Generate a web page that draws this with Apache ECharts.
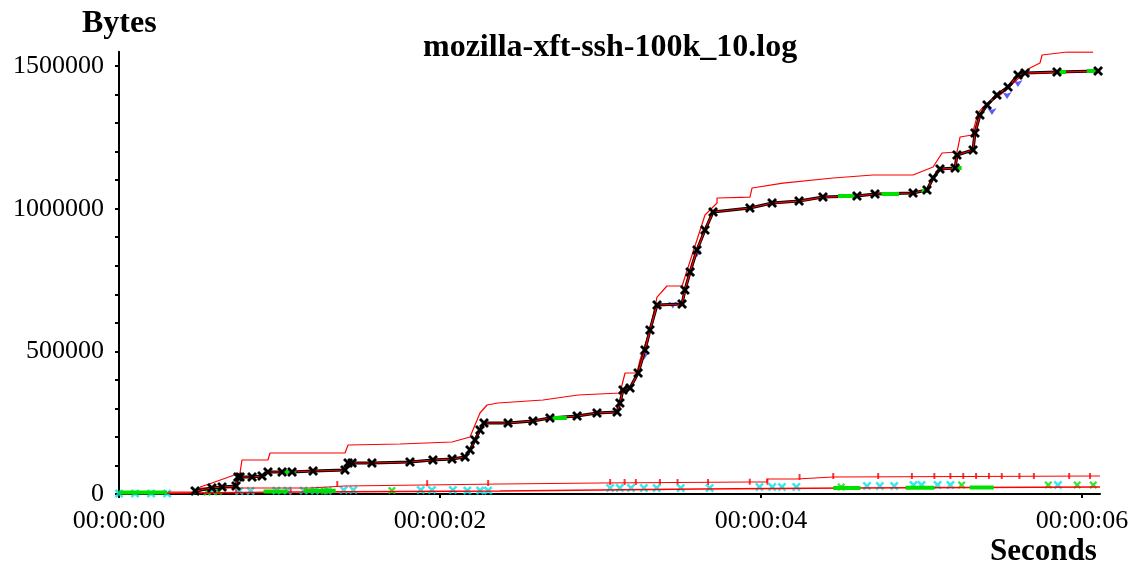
<!DOCTYPE html>
<html>
<head>
<meta charset="utf-8">
<script src="https://cdn.jsdelivr.net/npm/echarts@6/dist/echarts.min.js"></script>
<style>
  html, body { margin: 0; padding: 0; background: #fff; }
  #chart { width: 1133px; height: 567px; }
</style>
</head>
<body>
<div id="chart"></div>
<script>
// seconds on x, bytes on y
const xTicks = [0, 2, 4, 6]
const yTicks = [0, 500000, 1000000, 1500000]
const yMinorTicks = [0, 100000, 200000, 300000, 400000, 500000, 600000, 700000, 800000, 900000,
  1000000, 1100000, 1200000, 1300000, 1400000, 1500000]

// main connection: data segments (black x's)
const dataPts = [
  [0.474, 10500], [0.579, 21000], [0.642, 24500], [0.729, 28000], [0.741, 59600], [0.754, 59600],
  [0.829, 59600], [0.891, 63100], [0.928, 77100], [1.016, 77100], [1.078, 77100], [1.209, 80600],
  [1.408, 84100], [1.427, 108700], [1.452, 108700], [1.576, 108700], [1.813, 112200], [1.956, 119200],
  [2.075, 122700], [2.156, 129700], [2.187, 154200], [2.218, 189300], [2.249, 224300], [2.274, 248900],
  [2.424, 248900], [2.579, 255900], [2.685, 266400], [2.854, 273400], [2.978, 283900], [3.103, 287400],
  [3.121, 318900], [3.140, 364500], [3.184, 371500], [3.234, 424100], [3.277, 504700], [3.308, 574800],
  [3.352, 662400], [3.508, 665900], [3.526, 715000], [3.558, 778100], [3.601, 855200], [3.651, 925300],
  [3.701, 988400], [3.931, 1002400], [4.069, 1019900], [4.237, 1026900], [4.386, 1040900], [4.598, 1044500],
  [4.710, 1051500], [4.947, 1055000], [5.034, 1065500], [5.072, 1107600], [5.115, 1139100], [5.209, 1142600],
  [5.221, 1188200], [5.321, 1205700], [5.333, 1265300], [5.364, 1328400], [5.408, 1363400], [5.470, 1398500],
  [5.539, 1426500], [5.601, 1468600], [5.645, 1475600], [5.844, 1479100], [6.100, 1482600]
]

// main connection: receive window line (upper red)
const winPts = [
  [0.505, 24500], [0.579, 38600], [0.754, 73600], [0.766, 119200], [0.928, 119200], [0.941, 143700],
  [1.408, 143700], [1.427, 171700], [1.751, 175200], [2.075, 182300], [2.187, 199800], [2.249, 283900],
  [2.293, 311900], [2.361, 318900], [2.642, 329500], [2.860, 347000], [3.121, 354000], [3.153, 424100],
  [3.227, 424100], [3.246, 469700], [3.308, 574800], [3.352, 690400], [3.414, 729000], [3.508, 729000],
  [3.651, 977900], [3.726, 1019900], [3.726, 1037500], [3.931, 1040900], [3.944, 1072500], [4.137, 1090000],
  [4.449, 1107600], [4.698, 1118100], [4.947, 1118100], [5.072, 1146100], [5.128, 1195200], [5.221, 1198700],
  [5.240, 1251300], [5.315, 1258300], [5.352, 1335400], [5.383, 1356400], [5.489, 1398500], [5.676, 1493100],
  [5.738, 1510600], [5.751, 1538700], [5.907, 1549200], [6.069, 1549200]
]

// green (sack) stretches, '-' breaks the line
const greenPts = [
  [1.02, 77100], [1.10, 77100], ['-', '-'], [2.68, 266400], [2.79, 266400], ['-', '-'],
  [4.48, 1044500], [4.60, 1044500], ['-', '-'], [4.75, 1051500], [4.86, 1051500], ['-', '-'],
  [5.00, 1062000], [5.05, 1062000], ['-', '-'], [5.19, 1142600], [5.25, 1142600], ['-', '-'],
  [5.84, 1479100], [5.90, 1479100], ['-', '-'], [6.03, 1482600], [6.09, 1482600], ['-', '-'],
  [0.00, 5500], [0.30, 5500], ['-', '-'], [0.90, 9000], [1.05, 9000], ['-', '-'],
  [1.15, 11000], [1.35, 11000], ['-', '-'], [4.45, 21000], [4.62, 21000], ['-', '-'],
  [4.90, 22000], [5.08, 22000], ['-', '-'], [5.30, 22500], [5.45, 22500]
]

// blue arrows (duplicate data)
const bluePts = [[5.439, 1328300], [5.533, 1384400], [5.601, 1426500], [3.27, 470000], [3.45, 650000], [3.60, 830000]]

// small connections near the bottom
const smallWin = [
  [0.305, 7000], [0.505, 21000], [1.19, 28000], [1.408, 35000], [2.374, 38600], [2.997, 42100],
  [3.931, 42100], [4.037, 52600], [4.224, 59600], [4.449, 63100], [6.112, 63100]
]
const smallAck = [
  [0.0, 1500], [0.38, 3500], [1.128, 7000], [2.374, 10500], [3.62, 17500], [4.555, 21000], [6.112, 24500]
]
const cyanPts = [
  [0.0, 2000], [0.1, 2000], [0.2, 2000], [0.3, 2000], [0.48, 10500], [0.58, 12000], [0.75, 10500],
  [0.82, 10500], [0.98, 12000], [1.05, 12000], [1.15, 12000], [1.22, 12000], [1.30, 12000], [1.40, 14000],
  [1.46, 14000], [1.88, 14000], [1.95, 14000], [2.08, 14000], [2.17, 12000], [2.25, 12000], [2.30, 12000],
  [3.06, 21000], [3.12, 21000], [3.19, 21000], [3.27, 21000], [3.35, 21000], [3.50, 21000], [3.68, 21000],
  [3.99, 24500], [4.07, 24500], [4.13, 24500], [4.22, 24500], [4.66, 28000], [4.74, 28000], [4.83, 28000],
  [4.95, 31500], [5.00, 31500], [5.10, 31500], [5.18, 31500], [5.85, 31500]
]
const greenMarks = [
  [0.55, 7000], [0.62, 8000], [1.28, 10500], [1.70, 12000], [4.50, 24500], [5.25, 31500], [5.79, 31500],
  [5.97, 31500], [6.07, 31500]
]
const redTicks = [
  [0.73, 8000], [1.07, 8000], [1.36, 35000], [1.92, 38000], [2.30, 38600], [3.06, 42100], [3.15, 42100],
  [3.22, 42100], [3.37, 42100], [3.48, 42100], [3.67, 42100], [3.93, 43000], [4.04, 43000], [4.24, 59600],
  [4.45, 63100], [4.73, 63100], [4.94, 63100], [5.08, 63100], [5.18, 63100], [5.26, 63100], [5.34, 63100],
  [5.42, 63100], [5.50, 63100], [5.61, 63100], [5.70, 63100], [5.92, 63100], [6.05, 63100]
]

const xSym = 'path://M0,2L2,0L5,3L8,0L10,2L7,5L10,8L8,10L5,7L2,10L0,8L3,5Z'

let chart = echarts.init(document.getElementById('chart'))
let option = {
  animation: false,
  backgroundColor: '#fff',
  textStyle: { fontFamily: 'Liberation Serif' },
  title: [
    { text: 'mozilla-xft-ssh-100k_10.log', left: 418, top: 27,
      textStyle: { fontFamily: 'Liberation Serif', fontWeight: 'bold', fontSize: 32, color: '#000' } },
    { text: 'Bytes', left: 77, top: 3,
      textStyle: { fontFamily: 'Liberation Serif', fontWeight: 'bold', fontSize: 32, color: '#000' } },
    { text: 'Seconds', left: 985, top: 531,
      textStyle: { fontFamily: 'Liberation Serif', fontWeight: 'bold', fontSize: 31, color: '#000' } }
  ],
  grid: { left: 119, right: 33, top: 51.8, bottom: 73 },
  xAxis: {
    type: 'value',
    min: 0,
    max: 6.112,
    splitLine: { show: false },
    axisLine: { onZero: false, lineStyle: { color: '#000', width: 2 } },
    axisTick: { customValues: xTicks, length: 4, lineStyle: { color: '#000', width: 2 } },
    axisLabel: {
      customValues: xTicks,
      margin: 14,
      fontSize: 26,
      color: '#000',
      fontFamily: 'Liberation Serif',
      formatter: (v) => '00:00:0' + v
    }
  },
  yAxis: {
    type: 'value',
    min: 0,
    max: 1550000,
    splitLine: { show: false },
    axisLine: { onZero: false, lineStyle: { color: '#000', width: 2 } },
    axisTick: { customValues: yMinorTicks, length: 4, lineStyle: { color: '#000', width: 2 } },
    axisLabel: {
      customValues: yTicks,
      margin: 15,
      fontSize: 26,
      color: '#000',
      fontFamily: 'Liberation Serif',
      formatter: (v) => String(v)
    }
  },
  series: [
    {
      name: 'smallWin', type: 'line', data: smallWin, step: 'end', symbol: 'none',
      lineStyle: { color: '#ff0000', width: 1.2 }
    },
    {
      name: 'smallAck', type: 'line', data: smallAck, symbol: 'none',
      lineStyle: { color: '#ff0000', width: 1.5 }
    },
    {
      name: 'redTicks', type: 'scatter', data: redTicks, symbol: 'rect', symbolSize: [2, 6],
      itemStyle: { color: '#ff0000' }
    },
    {
      name: 'cyan', type: 'scatter', data: cyanPts, symbol: xSym, symbolSize: 9,
      itemStyle: { color: '#00e5ee' }
    },
    {
      name: 'greenMarks', type: 'scatter', data: greenMarks, symbol: xSym, symbolSize: 8,
      itemStyle: { color: '#00dd00' }
    },
    {
      name: 'window', type: 'line', data: winPts, symbol: 'none',
      lineStyle: { color: '#ff0000', width: 1.2 }
    },
    {
      name: 'data', type: 'line', data: dataPts, symbol: xSym, symbolSize: 10, showSymbol: true,
      lineStyle: { color: '#000', width: 3 },
      itemStyle: { color: '#000' }
    },
    {
      name: 'ack', type: 'line', data: dataPts, symbol: 'none',
      lineStyle: { color: '#ff0000', width: 1.2 }
    },
    {
      name: 'sack', type: 'line', data: greenPts, symbol: 'none', connectNulls: false,
      lineStyle: { color: '#00e000', width: 4 }
    },
    {
      name: 'dup', type: 'scatter', data: bluePts, symbol: 'arrow', symbolRotate: 180, symbolSize: 7,
      itemStyle: { color: '#3333ff' }
    }
  ]
}
chart.setOption(option)
</script>
</body>
</html>
